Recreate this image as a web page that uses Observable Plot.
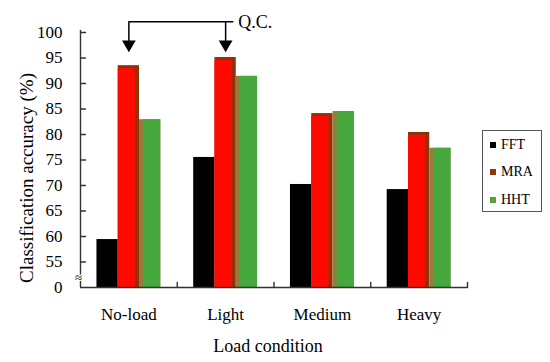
<!DOCTYPE html>
<html><head><meta charset="utf-8">
<script src="https://cdn.jsdelivr.net/npm/d3@7"></script>
<script src="https://cdn.jsdelivr.net/npm/@observablehq/plot@0.6"></script>
<style>
body{margin:0;background:#fff;}
#wrap{position:relative;width:550px;height:362px;font-family:"Liberation Serif","Times New Roman",serif;background:#fff;}
#wrap svg text{font-family:"Liberation Serif","Times New Roman",serif;}
#legend{position:absolute;left:482px;top:130px;width:60px;height:82px;border:1.5px solid #555;box-sizing:border-box;background:#fff;}
.item{position:absolute;left:7px;font-family:"Liberation Serif","Times New Roman",serif;font-size:14px;line-height:14px;white-space:nowrap;color:#000;}
.sw{display:inline-block;width:6px;height:6px;margin-right:5px;vertical-align:1px;}
</style></head><body><div id="wrap"></div>
<script>
const categories = ["No-load", "Light", "Medium", "Heavy"];
const series = ["FFT", "MRA", "HHT"];
const fft = [59.4, 75.5, 70.2, 69.2];
const mra = [93.5, 95.1, 84.1, 80.4];
const hht = [82.9, 91.4, 84.5, 77.3];
const yTicks = [50, 55, 60, 65, 70, 75, 80, 85, 90, 95, 100];
const yTickLabels = ["0", "55", "60", "65", "70", "75", "80", "85", "90", "95", "100"];
const yTitle = "Classification accuracy (%)";
const xTitle = "Load condition";
const qcLabel = "Q.C.";
const qcTargets = ["No-load", "Light"];
const qcLineY = 102.1;
const qcTipY = 96.1;
const legendColors = ["#000000", "#963508", "#5c9e3c"];

const values = {FFT: fft, MRA: mra, HHT: hht};
const W = 0.22;
const rows = [];
categories.forEach((c, i) => series.forEach((s, j) => rows.push({cat: c, i, s, j, v: values[s][i]})));
const bx1 = d => d.i + (d.j - 1.5) * W;
const bx2 = d => d.i + (d.j - 0.5) * W;
const of = s => rows.filter(d => d.s === s);
const qcIdx = qcTargets.map(c => categories.indexOf(c));
const boundaries = categories.map((c, i) => i + 0.5);
const tickShape = {draw(ctx, l) { ctx.moveTo(0, 0); ctx.lineTo(0, -l); }};
const axisColor = "#333";
const fs = 17;
const ff = '"Liberation Serif","Times New Roman",serif';

const chart = Plot.plot({
  width: 550, height: 362,
  marginLeft: 80, marginRight: 83, marginTop: 32, marginBottom: 75,
  x: {type: "linear", domain: [-0.5, 3.5], axis: null},
  y: {domain: [50, 100], axis: null},
  style: {fontFamily: ff, background: "white", overflow: "visible"},
  marks: [
    Plot.rectY(of("FFT"), {x1: bx1, x2: bx2, y1: 50, y2: "v", fill: "#000"}),
    Plot.rectY(of("MRA"), {x1: bx1, x2: bx2, y1: 50, y2: "v", fill: "#8e3208"}),
    Plot.rectY(of("MRA"), {x1: bx1, x2: bx2, y1: 50, y2: "v", fill: "#ff0a00", insetRight: 4, insetTop: 3}),
    Plot.rectY(of("HHT"), {x1: bx1, x2: bx2, y1: 50, y2: "v", fill: "#9a7a3a"}),
    Plot.rectY(of("HHT"), {x1: bx1, x2: bx2, y1: 50, y2: "v", fill: "#46a73e", insetLeft: 4}),
    // axes
    Plot.ruleX([-0.5], {x: d => d, y1: 50, y2: 100.4, stroke: axisColor, strokeWidth: 1.4}),
    Plot.ruleY([50], {y: d => d, stroke: axisColor, strokeWidth: 1.4}),
    Plot.vector(yTicks.slice(1), {x: -0.5, y: d => d, length: 5, rotate: 90, anchor: "start", shape: tickShape, stroke: axisColor, strokeWidth: 1.4}),
    Plot.vector(boundaries, {x: d => d, y: 50, length: 5, rotate: 0, anchor: "start", shape: tickShape, stroke: axisColor, strokeWidth: 1.4}),
    Plot.text(yTicks, {x: -0.5, y: d => d, text: (d, i) => yTickLabels[i], textAnchor: "end", dx: -18, fontSize: fs, fontFamily: ff, fill: "#000"}),
    Plot.text(["≈"], {x: -0.5, y: (yTicks[0] + yTicks[1]) / 2, dy: 3, dx: -2, fontSize: 13, fontFamily: ff, fill: "#000", stroke: "white", strokeWidth: 2, paintOrder: "stroke"}),
    Plot.text(categories, {x: (d, i) => i, y: 50, dy: 27, fontSize: fs, fontFamily: ff, fill: "#000"}),
    Plot.text([yTitle], {frameAnchor: "left", textAnchor: "middle", dx: -54, dy: 18, rotate: -90, fontSize: 19, fontFamily: ff, fill: "#000"}),
    Plot.text([xTitle], {frameAnchor: "bottom", textAnchor: "middle", dx: -6, dy: 64, fontSize: 18, fontFamily: ff, fill: "#000"}),
    // Q.C. annotation
    Plot.link([0], {x1: qcIdx[0], x2: qcIdx[1] + 0.08, y1: qcLineY, y2: qcLineY, stroke: "#000", strokeWidth: 1.5}),
    Plot.ruleX(qcIdx, {x: d => d, y1: qcLineY, y2: qcTipY + 1, stroke: "#000", strokeWidth: 1.5}),
    Plot.dot(qcIdx, {x: d => d, y: qcTipY, dy: -8, symbol: "triangle", rotate: 180, r: 5.1, fill: "#000", stroke: "none"}),
    Plot.text([qcLabel], {x: qcIdx[1] + 0.13, y: qcLineY, textAnchor: "start", fontSize: 18, fontFamily: ff, fill: "#000"})
  ]
});

const wrap = document.getElementById("wrap");
wrap.appendChild(chart);
const legend = document.createElement("div");
legend.id = "legend";
const tops = [7, 34, 62];
series.forEach((s, k) => {
  const it = document.createElement("div");
  it.className = "item";
  it.style.top = tops[k] + "px";
  const sw = document.createElement("span");
  sw.className = "sw";
  sw.style.background = legendColors[k];
  it.appendChild(sw);
  it.appendChild(document.createTextNode(s));
  legend.appendChild(it);
});
wrap.appendChild(legend);
</script></body></html>
